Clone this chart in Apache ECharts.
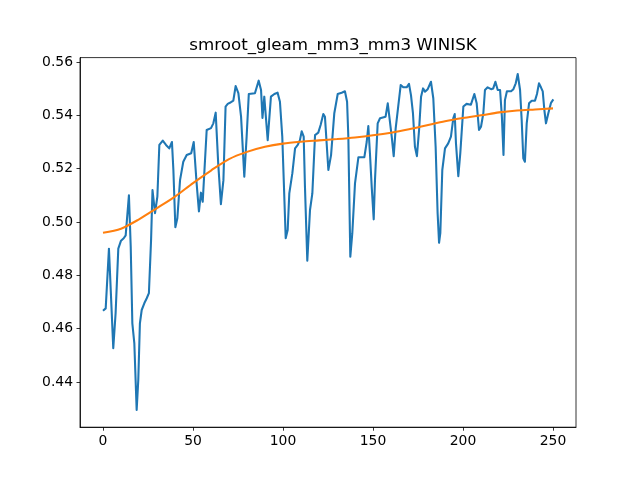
<!DOCTYPE html>
<html>
<head>
<meta charset="utf-8">
<script src="https://cdn.jsdelivr.net/npm/echarts@6/dist/echarts.min.js"></script>
<style>
  html, body { margin: 0; padding: 0; background: #fff; }
  #chart { width: 640px; height: 480px; }
</style>
</head>
<body>
<div id="chart"></div>
<script>
const TITLE = 'smroot_gleam_mm3_mm3 WINISK';

const X_TICKS = [0, 50, 100, 150, 200, 250];
const Y_TICKS = [0.44, 0.46, 0.48, 0.50, 0.52, 0.54, 0.56];

// blue series, vertices (index, value)
const blueX = [
    0, 1.5, 3.3, 5.7, 7, 8.5, 10, 11.5, 12.6, 13.5, 14.4, 15.4, 16.3, 17.4, 18.7, 19.6,
    20.5, 21.5, 23, 24.3, 25.5, 26.7, 27.5, 28.9, 30.2, 31.3, 33.2, 35, 36.8, 38.3, 39.1,
    40.2, 41.3, 42.8, 44.6, 46.5, 49, 50.4, 52, 53.3, 54.4, 55.4, 57.6, 60, 61.3, 62.6,
    64, 65.5, 66.9, 68.1, 69.3, 70.5, 72.4, 73.7, 75.2, 76.7, 78.5, 79.8, 81, 84.4, 86.5,
    87.8, 88.6, 89.6, 90.5, 91.5, 93.3, 95.2, 97, 98.3, 99.6, 101.5, 102.6, 103.5, 105.2,
    106.7, 108.2, 109.4, 110.4, 111.5, 112.2, 113.5, 115, 116.3, 117.8, 119.6, 120.9,
    122.4, 123.3, 125.2, 126.7, 128.5, 130.4, 132.6, 134.4, 135.6, 136.3, 137.4, 138.5,
    140, 141.9, 145.2, 146.5, 147.4, 148.3, 149.3, 150.4, 151.1, 152.6, 153.9, 157,
    158.2, 159.3, 160.4, 161.5, 162.6, 164, 165.4, 166.8, 168.7, 170, 171.1, 172.2,
    173.3, 174.4, 175.6, 176.7, 177.8, 178.9, 180.4, 182.2, 183.5, 184.8, 185.9, 186.7,
    187.4, 188.5, 190, 191.8, 193.3, 194.6, 195.4, 196.1, 197.4, 198.5, 200.2, 202,
    204.4, 206.3, 207.6, 208.9, 210, 211.3, 212.2, 213.7, 215.6, 216.8, 218, 219.3,
    220.6, 221.6, 222.5, 223.3, 224.4, 226.7, 228, 229.3, 230.4, 231.7, 232.6, 233.5,
    234.4, 235.4, 236.7, 238.2, 240, 241.1, 242.2, 243.3, 244.3, 245.2, 246.1, 247.4,
    248.9, 250.2
];
const blueY = [
    0.4667, 0.4676, 0.4900, 0.4527, 0.4658, 0.4900, 0.4930, 0.4939, 0.4950, 0.4955, 0.5100, 0.4907, 0.4620, 0.4546, 0.4295, 0.4408,
    0.4620, 0.4670, 0.4696, 0.4714, 0.4733, 0.4932, 0.5120, 0.5033, 0.5095, 0.5289, 0.5305, 0.5289, 0.5276, 0.5300, 0.5195,
    0.4980, 0.5014, 0.5157, 0.5226, 0.5251, 0.5258, 0.5300, 0.5146, 0.5040, 0.5110, 0.5076, 0.5345, 0.5352, 0.5370, 0.5410,
    0.5220, 0.5067, 0.5157, 0.5433, 0.5443, 0.5447, 0.5455, 0.5510, 0.5483, 0.5395, 0.5170, 0.5320, 0.5480, 0.5483, 0.5530,
    0.5495, 0.5390, 0.5470, 0.5476, 0.5307, 0.5470, 0.5480, 0.5485, 0.5451, 0.5320, 0.4939, 0.4970, 0.5107, 0.5183,
    0.5276, 0.5289, 0.5307, 0.5340, 0.5320, 0.5132, 0.4855, 0.5045, 0.5107, 0.5326, 0.5335, 0.5364,
    0.5405, 0.5395, 0.5195, 0.5251, 0.5408, 0.5480, 0.5485, 0.5490, 0.5451, 0.5320, 0.4870, 0.4958,
    0.5145, 0.5243, 0.5243, 0.5300, 0.5360, 0.5258, 0.5130, 0.5010, 0.5157, 0.5370, 0.5389, 0.5395,
    0.5445, 0.5447, 0.5320, 0.5247, 0.5351, 0.5433, 0.5514, 0.5505, 0.5505, 0.5518, 0.5476, 0.5408,
    0.5282, 0.5247, 0.5345, 0.5470, 0.5501, 0.5489, 0.5498, 0.5526, 0.5464, 0.5282, 0.5033, 0.4922,
    0.4958, 0.5195, 0.5276, 0.5295, 0.5320, 0.5389, 0.5405, 0.5295, 0.5172, 0.5258, 0.5433, 0.5443,
    0.5440, 0.5480, 0.5445, 0.5345, 0.5357, 0.5408, 0.5495, 0.5505, 0.5498, 0.5501, 0.5526, 0.5495,
    0.5495, 0.5395, 0.5251, 0.5457, 0.5490, 0.5490, 0.5498, 0.5520, 0.5555, 0.5495, 0.5383, 0.5239,
    0.5226, 0.5370, 0.5445, 0.5455, 0.5455, 0.5480, 0.5520, 0.5505, 0.5490, 0.5420, 0.5370, 0.5408,
    0.5447, 0.5460
];

// orange trend, every 10 steps
const orangeX = [0, 10, 20, 30, 40, 50, 60, 70, 80, 90, 100, 110, 120, 130, 140, 150, 160, 170, 180, 190, 200, 210, 220, 230, 240, 250];
const orangeY = [0.4960, 0.4975, 0.5010, 0.5052, 0.5095, 0.5146, 0.5193, 0.5236, 0.5263, 0.5282, 0.5294, 0.5301, 0.5306,
    0.5311, 0.5317, 0.5325, 0.5335, 0.5348, 0.5363, 0.5378, 0.5390, 0.5400, 0.5411, 0.5418, 0.5422, 0.5426];

const chart = echarts.init(document.getElementById('chart'), null, { renderer: 'canvas' });

const font = 'DejaVu Sans';
const tickStyle = { show: true, inside: false, length: 3.5, lineStyle: { color: '#000', width: 0.8 } };
const lineStyleAxis = { show: true, onZero: false, lineStyle: { color: '#000', width: 0.8 } };

chart.setOption({
    animation: false,
    backgroundColor: '#fff',
    title: {
        text: TITLE,
        left: 328,
        textAlign: 'center',
        top: 32,
        textStyle: { fontFamily: font, fontSize: 16.7, fontWeight: 'normal', color: '#000' }
    },
    grid: {
        left: 80, right: 64, top: 57.6, bottom: 52.8,
        show: true, borderColor: '#000', borderWidth: 0.8, backgroundColor: 'transparent'
    },
    xAxis: {
        type: 'value',
        min: -12.78,
        max: 262.78,
        axisLine: lineStyleAxis,
        axisTick: Object.assign({ customValues: X_TICKS }, tickStyle),
        axisLabel: {
            customValues: X_TICKS,
            margin: 7,
            fontFamily: font, fontSize: 13.9, color: '#000',
            formatter: v => String(v)
        },
        splitLine: { show: false }
    },
    yAxis: {
        type: 'value',
        min: 0.42305,
        max: 0.56165,
        axisLine: lineStyleAxis,
        axisTick: Object.assign({ customValues: Y_TICKS }, tickStyle),
        axisLabel: {
            customValues: Y_TICKS,
            margin: 7,
            fontFamily: font, fontSize: 13.9, color: '#000',
            formatter: v => v.toFixed(2)
        },
        splitLine: { show: false }
    },
    series: [
        {
            type: 'line',
            data: blueX.map((x, i) => [x, blueY[i]]),
            showSymbol: false,
            lineStyle: { color: '#1f77b4', width: 2.08, join: 'round' },
            z: 2
        },
        {
            type: 'line',
            data: orangeX.map((x, i) => [x, orangeY[i]]),
            showSymbol: false,
            smooth: 0.3,
            lineStyle: { color: '#ff7f0e', width: 2.08 },
            z: 3
        }
    ]
});
</script>
</body>
</html>
